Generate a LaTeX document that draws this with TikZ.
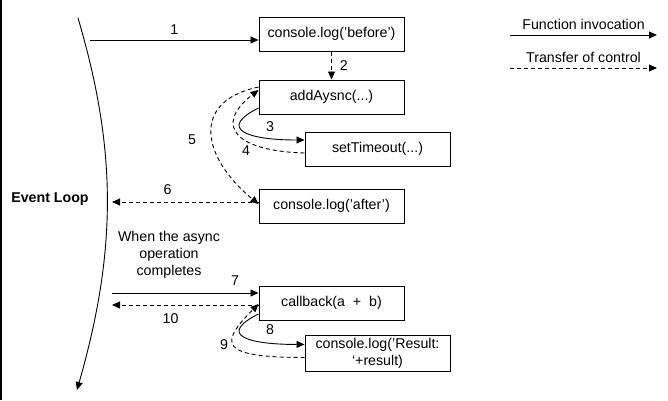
\documentclass[tikz,border=0pt]{standalone}
\usepackage{fontspec}
\setmainfont{Liberation Sans}
\usepackage{tikz}
\usetikzlibrary{arrows.meta, positioning, calc}

\begin{document}
\begin{tikzpicture}[
    x=1pt, y=-1pt,
    font=\fontsize{14.2}{17}\selectfont,
    callbox/.style={rectangle, draw, line width=1pt, minimum width=145pt, minimum height=34pt, align=center},
    arr/.style={-{Triangle[length=8pt, width=7pt]}, line width=0.9pt},
    ctrl/.style={arr, dash pattern=on 4pt off 3pt},
    lbl/.style={inner sep=1pt}
]
\useasboundingbox (0,0) rectangle (668,400);
\draw[line width=1.2pt] (1,0) -- (1,400);

% Event loop (left side)
\coordinate (loopTop) at (78,18);
\coordinate (loopEnd) at (77,390);
\draw[arr] (loopTop) .. controls (117,150) and (117,250) .. (loopEnd);
\node[font=\fontsize{14.2}{17}\selectfont\bfseries] (evloop) at (50,199) {Event Loop};
\node[align=center] (whenop) at (169,255) {When the async\\operation\\completes};

% Call stack boxes
\node[callbox] (before) at (331.5,34) {console.log('before')};
\node[callbox, below=28pt of before] (addasync) {addAysnc(...)};
\node[callbox, below=17pt of addasync, xshift=46pt] (settime) {setTimeout(...)};
\node[callbox, below=22pt of settime, xshift=-46pt] (after) {console.log('after')};
\node[callbox, below=62pt of after] (callback) {callback(a \;+\; b)};
\node[callbox, below=14pt of callback, xshift=46pt] (result) {console.log('Result:\\`+result)};

% Free ends on the event loop side
\coordinate (ev1) at (90,40);
\coordinate (ev6) at (112,202);
\coordinate (ev7) at (112,293);
\coordinate (ev10) at (112,305);

\draw[arr] (ev1) -- (ev1 -| before.west) node[lbl, midway, above=4pt] (n1) {1};
\draw[ctrl] (before) -- (addasync) node[lbl, midway, right=7pt] (n2) {2};
\draw[arr] ([yshift=-11pt]addasync.west) .. controls +(-40,20) and +(-60,0) .. ([yshift=9pt]settime.west);
\draw[ctrl] ([yshift=-4pt]settime.west) .. controls +(-70,-2) and +(-45,35) .. ([yshift=7pt]addasync.west);
\draw[ctrl] ([yshift=10pt]addasync.west) .. controls +(-70,15) and +(-55,-45) .. ([yshift=2pt]after.west);
\draw[ctrl] (ev6 -| after.west) -- (ev6) node[lbl, pos=0.62, above=6pt] (n6) {6};
\draw[arr] (ev7) -- (ev7 -| callback.west) node[lbl, pos=0.84, above=6pt] (n7) {7};
\draw[arr] ([yshift=-11pt]callback.west) .. controls +(-40,20) and +(-60,0) .. ([yshift=9pt]result.west);
\draw[ctrl] ([yshift=-4pt]result.west) .. controls +(-85,0) and +(-40,40) .. ([yshift=-1pt]callback.west);
\draw[ctrl] (ev10 -| callback.west) -- (ev10) node[lbl, pos=0.6, below=7pt] (n10) {10};

% Labels of the curved calls
\node[lbl] (n3) at (270,127) {3};
\node[lbl] (n4) at (246,151) {4};
\node[lbl] (n5) at (192,140) {5};
\node[lbl] (n8) at (270,330) {8};
\node[lbl] (n9) at (224,345) {9};

% Legend
\coordinate (fnA) at (510,35);
\coordinate (fnB) at (657,35);
\coordinate (trA) at (510,68);
\coordinate (trB) at (657,68);
\draw[arr] (fnA) -- (fnB) node[midway, above=2pt] (lgfn) {Function invocation};
\draw[ctrl] (trA) -- (trB) node[midway, above=2pt] (lgtr) {Transfer of control};

\end{tikzpicture}
\end{document}
